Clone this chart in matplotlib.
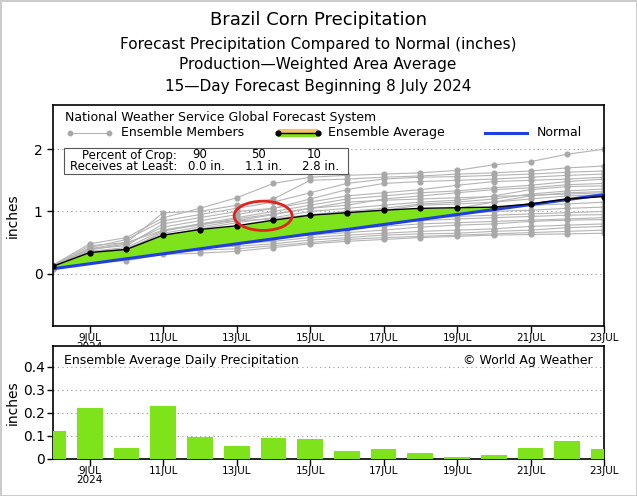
import matplotlib
matplotlib.use("Agg")
import matplotlib.pyplot as plt
from matplotlib.lines import Line2D
from matplotlib.patches import Ellipse, Rectangle
import numpy as np

W, H = 637, 496

# days of July 2024
days = [8, 9, 10, 11, 12, 13, 14, 15, 16, 17, 18, 19, 20, 21, 22, 23]
tick_days = [9, 11, 13, 15, 17, 19, 21, 23]
tick_labels = ["9JUL\n2024", "11JUL", "13JUL", "15JUL", "17JUL", "19JUL", "21JUL", "23JUL"]

# cumulative precipitation (inches)
ens_avg = [0.12, 0.34, 0.39, 0.62, 0.71, 0.77, 0.86, 0.94, 0.98, 1.02, 1.05, 1.06, 1.07, 1.12, 1.20, 1.24]
normal = [0.08, 0.16, 0.24, 0.32, 0.40, 0.48, 0.56, 0.64, 0.71, 0.79, 0.87, 0.95, 1.03, 1.11, 1.19, 1.27]

members = [
    [0.14, 0.48, 0.58, 0.90, 1.05, 1.22, 1.45, 1.55, 1.58, 1.60, 1.62, 1.66, 1.75, 1.80, 1.92, 2.00],
    [0.13, 0.45, 0.50, 0.98, 1.00, 1.10, 1.20, 1.50, 1.52, 1.55, 1.57, 1.60, 1.62, 1.65, 1.70, 1.73],
    [0.12, 0.42, 0.55, 0.85, 0.95, 1.05, 1.15, 1.30, 1.45, 1.52, 1.55, 1.56, 1.58, 1.60, 1.63, 1.65],
    [0.12, 0.40, 0.45, 0.80, 0.90, 1.00, 1.05, 1.20, 1.35, 1.45, 1.48, 1.50, 1.52, 1.55, 1.58, 1.60],
    [0.11, 0.38, 0.48, 0.75, 0.85, 0.95, 1.05, 1.15, 1.25, 1.30, 1.35, 1.42, 1.48, 1.50, 1.52, 1.55],
    [0.11, 0.36, 0.42, 0.70, 0.80, 0.90, 1.00, 1.10, 1.20, 1.25, 1.30, 1.33, 1.38, 1.42, 1.48, 1.52],
    [0.12, 0.35, 0.40, 0.65, 0.75, 0.85, 0.95, 1.05, 1.10, 1.20, 1.25, 1.30, 1.35, 1.38, 1.43, 1.45],
    [0.10, 0.33, 0.38, 0.60, 0.72, 0.82, 0.90, 1.00, 1.05, 1.10, 1.15, 1.18, 1.25, 1.35, 1.40, 1.41],
    [0.10, 0.32, 0.37, 0.68, 0.80, 0.85, 0.88, 0.95, 1.00, 1.05, 1.12, 1.15, 1.20, 1.28, 1.33, 1.36],
    [0.11, 0.30, 0.35, 0.55, 0.65, 0.75, 0.85, 0.92, 0.98, 1.02, 1.10, 1.12, 1.15, 1.20, 1.25, 1.27],
    [0.10, 0.30, 0.34, 0.58, 0.62, 0.70, 0.80, 0.90, 0.95, 1.00, 1.02, 1.04, 1.06, 1.10, 1.12, 1.15],
    [0.09, 0.28, 0.33, 0.50, 0.60, 0.68, 0.75, 0.82, 0.88, 0.92, 0.95, 0.97, 1.00, 1.02, 1.05, 1.07],
    [0.10, 0.29, 0.32, 0.48, 0.55, 0.62, 0.70, 0.78, 0.82, 0.85, 0.88, 0.92, 0.94, 0.96, 0.98, 1.00],
    [0.09, 0.27, 0.30, 0.45, 0.52, 0.58, 0.65, 0.72, 0.78, 0.82, 0.85, 0.88, 0.90, 0.92, 0.94, 0.95],
    [0.09, 0.28, 0.28, 0.42, 0.50, 0.55, 0.60, 0.66, 0.72, 0.76, 0.80, 0.82, 0.84, 0.86, 0.88, 0.90],
    [0.10, 0.27, 0.27, 0.40, 0.48, 0.52, 0.58, 0.62, 0.66, 0.70, 0.75, 0.78, 0.80, 0.84, 0.86, 0.87],
    [0.09, 0.26, 0.26, 0.38, 0.45, 0.48, 0.52, 0.58, 0.62, 0.65, 0.68, 0.70, 0.72, 0.76, 0.78, 0.80],
    [0.08, 0.25, 0.25, 0.35, 0.42, 0.44, 0.48, 0.54, 0.58, 0.62, 0.64, 0.65, 0.68, 0.70, 0.74, 0.76],
    [0.08, 0.26, 0.27, 0.33, 0.38, 0.40, 0.45, 0.50, 0.55, 0.58, 0.60, 0.62, 0.64, 0.66, 0.68, 0.70],
    [0.07, 0.20, 0.21, 0.31, 0.33, 0.36, 0.42, 0.48, 0.52, 0.55, 0.58, 0.60, 0.62, 0.63, 0.64, 0.65],
    [0.08, 0.30, 0.36, 0.62, 0.68, 0.74, 0.78, 0.84, 0.90, 0.94, 0.98, 1.05, 1.15, 1.25, 1.30, 1.32],
    [0.11, 0.40, 0.50, 0.70, 0.78, 0.88, 0.96, 1.05, 1.15, 1.18, 1.20, 1.22, 1.24, 1.26, 1.28, 1.30],
]

# daily ensemble average precipitation (inches)
daily = [0.12, 0.22, 0.047, 0.23, 0.094, 0.057, 0.093, 0.085, 0.033, 0.042, 0.025, 0.009, 0.016, 0.049, 0.077, 0.043]

GREEN = "#7fe31c"
BLUE = "#1f3fe0"
GREY = "#b4b4b4"

plt.rcParams["font.family"] = "DejaVu Sans"

fig = plt.figure(figsize=(W / 100, H / 100), dpi=100)


def fx(px):
    return px / W


def fy(py):
    return 1 - py / H


def ax_rect(left, top, right, bottom):
    return [fx(left), fy(bottom), fx(right) - fx(left), fy(top) - fy(bottom)]


# titles
fig.text(fx(318), fy(20), "Brazil Corn Precipitation", ha="center", va="center", fontsize=13)
fig.text(fx(318), fy(45), "Forecast Precipitation Compared to Normal (inches)", ha="center", va="center", fontsize=11)
fig.text(fx(318), fy(65), "Production\u2014Weighted Area Average", ha="center", va="center", fontsize=11)
fig.text(fx(318), fy(86), "15\u2014Day Forecast Beginning 8 July 2024", ha="center", va="center", fontsize=11)

# ---- top panel
ax = fig.add_axes(ax_rect(53, 105, 604, 326))
for m in members:
    ax.plot(days, m, color=GREY, lw=0.8, marker="o", ms=3.4, mec="#a8a8a8", mfc="#a8a8a8", zorder=2)
avg = np.array(ens_avg)
nor = np.array(normal)
ax.fill_between(days, avg, nor, where=avg >= nor, interpolate=True, color=GREEN, lw=0, zorder=3)
ax.plot(days, normal, color=BLUE, lw=2.2, zorder=4)
ax.plot(days, ens_avg, color="black", lw=1, marker="o", ms=3.5, zorder=5)
ax.add_patch(Ellipse((13.72, 0.93), 1.58, 0.47, fill=False, edgecolor="#e0241c", lw=2, zorder=6))

ax.set_xlim(8, 23)
ax.set_ylim(-0.84, 2.71)
ax.set_yticks([0, 1, 2])
ax.set_yticklabels(["0", "1", "2"], fontsize=10)
ax.grid(axis="y", linestyle=(0, (1, 3)), color="#999999", lw=0.8)
ax.set_xticks(tick_days)
ax.set_xticklabels(tick_labels, fontsize=7.5, linespacing=0.85)
ax.tick_params(axis="x", length=5, width=1, pad=0)
ax.tick_params(axis="y", length=4, width=1)
ax.set_ylabel("inches", fontsize=10)
ax.yaxis.set_label_coords(-0.06, 0.5)
for s in ax.spines.values():
    s.set_linewidth(1.2)

# legend inside top panel
fig.text(fx(65), fy(117), "National Weather Service Global Forecast System", ha="left", va="center", fontsize=9)
fig.add_artist(Line2D([fx(70), fx(109)], [fy(133), fy(133)], color=GREY, lw=0.8, marker="o", ms=3.2,
                      mfc="#a8a8a8", mec="#a8a8a8", transform=fig.transFigure, zorder=10))
fig.text(fx(121), fy(133), "Ensemble Members", ha="left", va="center", fontsize=9)
fig.add_artist(Line2D([fx(278), fx(318)], [fy(131), fy(131)], color="#f5c06a", lw=3,
                      transform=fig.transFigure, zorder=10, solid_capstyle="butt"))
fig.add_artist(Line2D([fx(278), fx(318)], [fy(135), fy(135)], color=GREEN, lw=3,
                      transform=fig.transFigure, zorder=10, solid_capstyle="butt"))
fig.add_artist(Line2D([fx(278), fx(318)], [fy(133), fy(133)], color="black", lw=1, marker="o", ms=3.5,
                      transform=fig.transFigure, zorder=11))
fig.text(fx(328), fy(133), "Ensemble Average", ha="left", va="center", fontsize=9)
fig.add_artist(Line2D([fx(485), fx(527)], [fy(133), fy(133)], color=BLUE, lw=2.2,
                      transform=fig.transFigure, zorder=10))
fig.text(fx(537), fy(133), "Normal", ha="left", va="center", fontsize=9)

fig.add_artist(Rectangle((fx(64), fy(174)), fx(348) - fx(64), fy(148) - fy(174), facecolor="white",
                         edgecolor="#555555", lw=0.8, transform=fig.transFigure, zorder=10))
fig.text(fx(177), fy(155), "Percent of Crop:", ha="right", va="center", fontsize=8.5, zorder=11)
fig.text(fx(177), fy(167), "Receives at Least:", ha="right", va="center", fontsize=8.5, zorder=11)
for cx, pct, amt in [(200, "90", "0.0 in."), (258, "50", "1.1 in."), (314, "10", "2.8 in.")]:
    fig.text(fx(cx), fy(155), pct, ha="center", va="center", fontsize=8.5, zorder=11)
    fig.text(fx(cx + 6), fy(167), amt, ha="center", va="center", fontsize=8.5, zorder=11)

# ---- bottom panel
bx = fig.add_axes(ax_rect(53, 346, 604, 459))
bx.bar(days, daily, width=0.7, color=GREEN, zorder=3)
bx.set_xlim(8, 23)
bx.set_ylim(0, 0.49)
bx.set_yticks([0, 0.1, 0.2, 0.3, 0.4])
bx.set_yticklabels(["0", "0.1", "0.2", "0.3", "0.4"], fontsize=10)
bx.grid(axis="y", linestyle=(0, (1, 3)), color="#999999", lw=0.8)
bx.set_xticks(tick_days)
bx.set_xticklabels(tick_labels, fontsize=7.5, linespacing=0.85)
bx.tick_params(axis="x", length=5, width=1, pad=0)
bx.tick_params(axis="y", length=4, width=1, pad=2)
bx.set_ylabel("inches", fontsize=10)
bx.yaxis.set_label_coords(-0.06, 0.5)
for s in bx.spines.values():
    s.set_linewidth(1.2)
bx.text(0.02, 0.93, "Ensemble Average Daily Precipitation", transform=bx.transAxes, ha="left", va="top", fontsize=9)
bx.text(0.98, 0.93, "\u00a9 World Ag Weather", transform=bx.transAxes, ha="right", va="top", fontsize=9)

fig.patch.set_edgecolor("#cccccc")
fig.patch.set_linewidth(2)

fig.savefig("out.png", dpi=100)
